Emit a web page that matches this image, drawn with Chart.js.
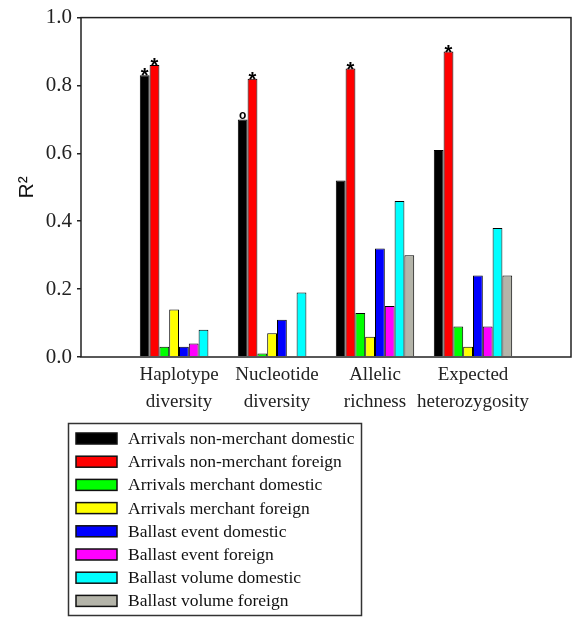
<!DOCTYPE html>
<html>
<head>
<meta charset="utf-8">
<script src="https://cdn.jsdelivr.net/npm/chart.js@4.4.1/dist/chart.umd.min.js"></script>
<style>
  html, body { margin: 0; padding: 0; background: #fff; }
  #wrap { width: 572px; height: 617px; }
</style>
</head>
<body>
<div id="wrap"><canvas id="myChart"></canvas></div>
<script>
"use strict";
// Categories (blank slots at both ends leave the empty margins of the plot)
const categories = ['', ['Haplotype', 'diversity'], ['Nucleotide', 'diversity'], ['Allelic', 'richness'], ['Expected', 'heterozygosity'], ''];

const seriesNames = [
    'Arrivals non-merchant domestic',
    'Arrivals non-merchant foreign',
    'Arrivals merchant domestic',
    'Arrivals merchant foreign',
    'Ballast event domestic',
    'Ballast event foreign',
    'Ballast volume domestic',
    'Ballast volume foreign'
];
const seriesColors = ['#000000', '#ff0000', '#00ff00', '#ffff00', '#0000ff', '#ff00ff', '#00ffff', '#b4b4a9'];

// R2 values
const nonMerchantDomestic = [null, 0.83, 0.70, 0.52, 0.61, null];
const nonMerchantForeign  = [null, 0.86, 0.82, 0.85, 0.90, null];
const merchantDomestic    = [null, 0.03, 0.01, 0.13, 0.09, null];
const merchantForeign     = [null, 0.14, 0.07, 0.06, 0.03, null];
const eventDomestic       = [null, 0.03, 0.11, 0.32, 0.24, null];
const eventForeign        = [null, 0.04, null, 0.15, 0.09, null];
const volumeDomestic      = [null, 0.08, 0.19, 0.46, 0.38, null];
const volumeForeign       = [null, null, null, 0.30, 0.24, null];

const yTicks = [0, 0.2, 0.4, 0.6, 0.8, 1.0];

// significance marks: [dataset, category index, symbol]
const marks = [
    [0, 1, '*'], [1, 1, '*'],
    [0, 2, 'o'], [1, 2, '*'],
    [1, 3, '*'],
    [1, 4, '*']
];

const allSeries = [nonMerchantDomestic, nonMerchantForeign, merchantDomestic, merchantForeign,
    eventDomestic, eventForeign, volumeDomestic, volumeForeign];

const dataR2 = {
    labels: categories,
    datasets: allSeries.map((values, i) => ({
        label: seriesNames[i],
        data: values,
        backgroundColor: seriesColors[i],
        borderColor: '#000',
        borderWidth: 1,
        categoryPercentage: 0.8,
        barPercentage: 1.0
    }))
};

const serif = "'Liberation Serif', 'Times New Roman', serif";

// frame, significance marks and legend box
const extras = {
    id: 'extras',
    afterDatasetsDraw(chart) {
        const ctx = chart.ctx;
        const a = chart.chartArea;
        ctx.save();
        ctx.strokeStyle = '#222';
        ctx.lineWidth = 1.5;
        ctx.strokeRect(a.left, a.top, a.right - a.left, a.bottom - a.top);

        ctx.fillStyle = '#000';
        ctx.textAlign = 'center';
        ctx.textBaseline = 'alphabetic';
        marks.forEach(([ds, idx, sym]) => {
            const bar = chart.getDatasetMeta(ds).data[idx];
            if (sym === '*') {
                ctx.font = "bold 20px 'Liberation Sans', Arial, sans-serif";
                ctx.fillText('*', bar.x, bar.y + 7);
            } else {
                ctx.font = "bold 12px 'Liberation Sans', Arial, sans-serif";
                ctx.fillText('o', bar.x, bar.y);
            }
        });
        ctx.restore();
    },
    afterDraw(chart) {
        const ctx = chart.ctx;
        ctx.save();
        ctx.strokeStyle = '#333';
        ctx.lineWidth = 1.5;
        ctx.strokeRect(68.5, 423.5, 293, 192);
        ctx.font = '17.5px ' + serif;
        ctx.textBaseline = 'middle';
        ctx.textAlign = 'left';
        chart.data.datasets.forEach((ds, i) => {
            const cy = 438.5 + i * 23.2;
            ctx.fillStyle = ds.backgroundColor;
            ctx.fillRect(76, cy - 5.5, 41, 11);
            ctx.strokeStyle = '#111';
            ctx.lineWidth = 1.5;
            ctx.strokeRect(76, cy - 5.5, 41, 11);
            ctx.fillStyle = '#111';
            ctx.fillText(ds.label, 128, cy + 1);
        });
        ctx.restore();
    }
};

const configR2 = {
    type: 'bar',
    data: dataR2,
    options: {
        responsive: true,
        maintainAspectRatio: false,
        animation: false,
        layout: { padding: { top: 15, right: 1, left: 0, bottom: 0 } },
        plugins: {
            legend: { display: false },
            tooltip: { enabled: false }
        },
        scales: {
            x: {
                offset: false,
                grid: { display: false },
                border: { display: false },
                ticks: {
                    autoSkip: false,
                    maxRotation: 0,
                    color: '#222',
                    padding: -3,
                    font: { family: serif, size: 19, lineHeight: 1.4 }
                },
                afterFit(scale) { scale.height = 260; }
            },
            y: {
                min: 0,
                max: 1,
                afterBuildTicks(scale) { scale.ticks = yTicks.map(v => ({ value: v })); },
                grid: { drawOnChartArea: false, drawTicks: true, tickLength: 4, color: '#222', lineWidth: 1.5 },
                border: { display: false },
                ticks: {
                    color: '#222',
                    padding: 5,
                    font: { family: serif, size: 21 },
                    callback: v => v.toFixed(1)
                },
                title: {
                    display: true,
                    text: 'R²',
                    color: '#111',
                    padding: { top: 15, bottom: 0 },
                    font: { family: "'Liberation Sans', Arial, sans-serif", size: 21 }
                },
                afterFit(scale) { scale.width = 81; }
            }
        }
    },
    plugins: [extras]
};

const myChart = new Chart(document.getElementById('myChart'), configR2);
</script>
</body>
</html>
